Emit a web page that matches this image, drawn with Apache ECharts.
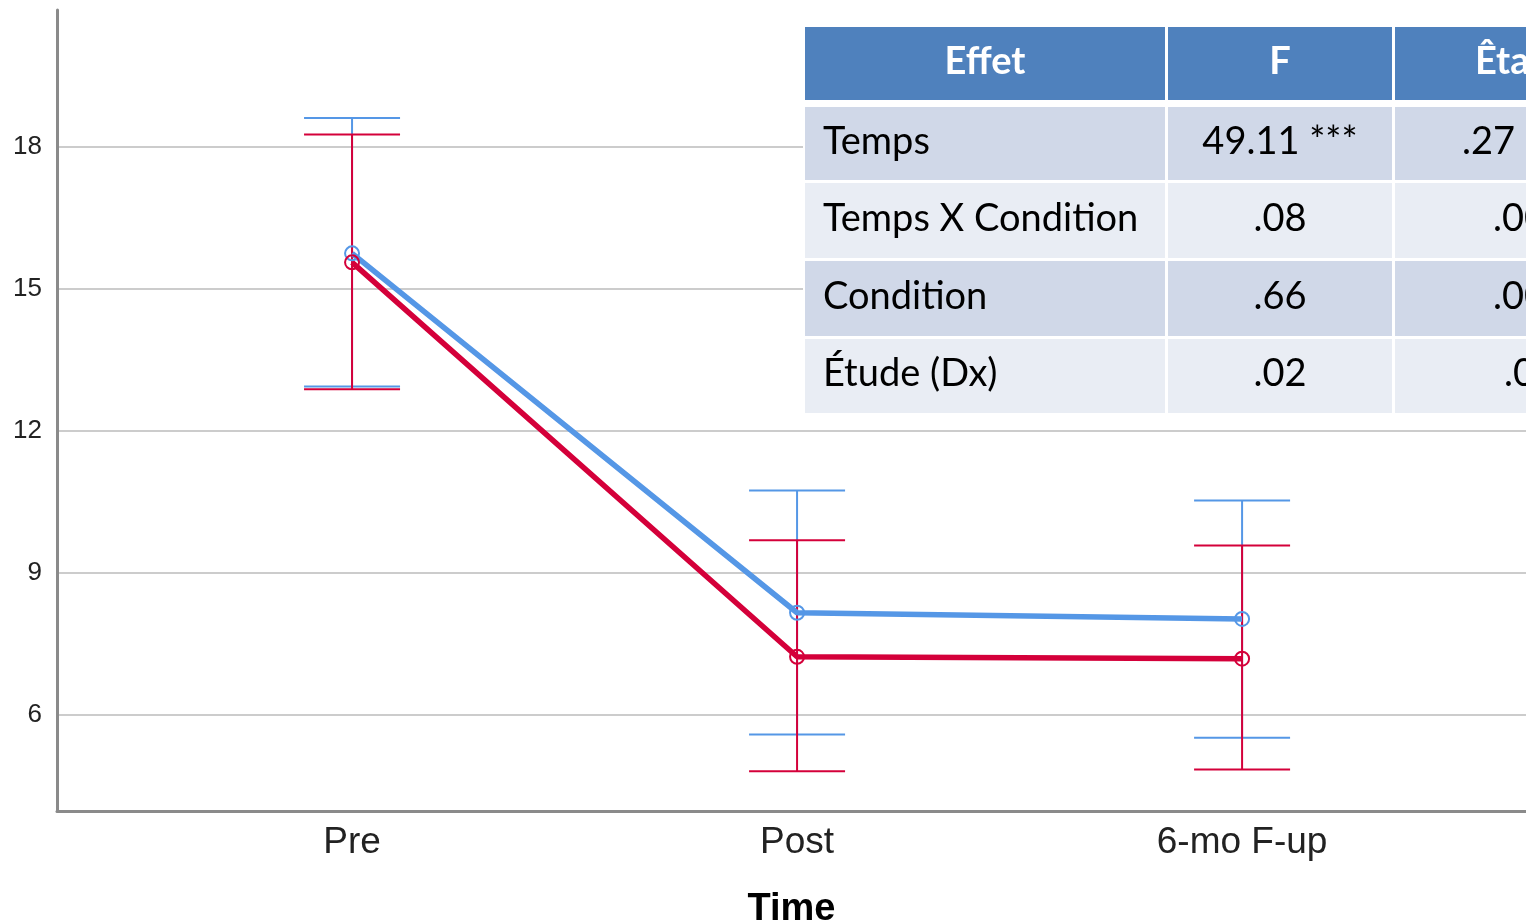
<!DOCTYPE html>
<html>
<head>
<meta charset="utf-8">
<script src="https://cdn.jsdelivr.net/npm/echarts@6/dist/echarts.min.js"></script>
<style>
html,body{margin:0;padding:0;background:#fff;}
#c{width:1526px;height:920px;}
</style>
</head>
<body>
<div id="c"></div>
<script>
// ---- data ----
const categories = ['Pre', 'Post', '6-mo F-up'];
const blueMean  = [15.74, 8.15, 8.02];
const blueUpper = [18.60, 10.73, 10.52];
const blueLower = [12.93, 5.58, 5.51];
const redMean   = [15.55, 7.22, 7.18];
const redUpper  = [18.25, 9.68, 9.57];
const redLower  = [12.87, 4.80, 4.84];
const yTicks = [6, 9, 12, 15, 18];
const xAxisName = 'Time';

// table content
const tableHeader = ['Effet', 'F', 'Êta'];
const tableEffects = ['Temps', 'Temps X Condition', 'Condition', 'Étude (Dx)'];
const tableF = ['49.11 ***', '.08', '.66', '.02'];
const tableEta = ['.27 ***', '.00', '.00', '.0'];

// ---- styles ----
const BLUE = '#5597E6';
const RED = '#D4003A';

function errorBarSeries(name, upper, lower, color) {
  return {
    type: 'custom',
    name: name,
    data: categories.map((c, i) => [i, lower[i], upper[i]]),
    z: 3,
    renderItem: function (params, api) {
      const x = api.value(0);
      const lo = api.coord([x, api.value(1)]);
      const hi = api.coord([x, api.value(2)]);
      const hw = 48;
      const st = { stroke: color, lineWidth: 2 };
      return {
        type: 'group',
        children: [
          { type: 'line', shape: { x1: hi[0], y1: hi[1], x2: lo[0], y2: lo[1] }, style: st },
          { type: 'line', shape: { x1: hi[0] - hw, y1: hi[1], x2: hi[0] + hw, y2: hi[1] }, style: st },
          { type: 'line', shape: { x1: lo[0] - hw, y1: lo[1], x2: lo[0] + hw, y2: lo[1] }, style: st }
        ]
      };
    }
  };
}

function lineSeries(name, values, color) {
  return {
    type: 'line',
    name: name,
    data: values.map((v, i) => [i, v]),
    z: 4,
    symbol: 'circle',
    symbolSize: 14,
    lineStyle: { color: color, width: 5.5 },
    itemStyle: { color: 'rgba(0,0,0,0)', borderColor: color, borderWidth: 2 },
    animation: false
  };
}

// ---- table graphics ----
const tblFont = 'Lato, "Open Sans", sans-serif';
const colX = [805, 1168, 1395];
const colW = [360, 224, 240];
const rowY = [27, 107, 183, 261, 339];
const rowH = [73, 73, 75, 75, 74];
const rowFill = ['#4F81BD', '#D0D8E8', '#E9EDF4', '#D0D8E8', '#E9EDF4'];
const graphics = [];
graphics.push({ type: 'rect', z: 100, shape: { x: 803, y: 24, width: 723, height: 392 }, style: { fill: '#ffffff' } });
for (let r = 0; r < 5; r++) {
  for (let c = 0; c < 3; c++) {
    graphics.push({ type: 'rect', z: 101, shape: { x: colX[c], y: rowY[r], width: colW[c], height: rowH[r] }, style: { fill: rowFill[r] } });
  }
}
const midY = r => rowY[r] + rowH[r] / 2 - 2;
const FS = 38;
// header
graphics.push({ type: 'text', z: 102, style: { text: tableHeader[0], x: colX[0] + colW[0] / 2, y: midY(0), align: 'center', verticalAlign: 'middle', font: 'bold ' + FS + 'px ' + tblFont, fill: '#ffffff' } });
graphics.push({ type: 'text', z: 102, style: { text: tableHeader[1], x: colX[1] + colW[1] / 2, y: midY(0), align: 'center', verticalAlign: 'middle', font: 'bold ' + FS + 'px ' + tblFont, fill: '#ffffff' } });
graphics.push({ type: 'text', z: 102, style: { text: tableHeader[2], x: 1475, y: midY(0), align: 'left', verticalAlign: 'middle', font: 'bold ' + FS + 'px ' + tblFont, fill: '#ffffff' } });
const etaX = [1462, 1493, 1493, 1504];
for (let i = 0; i < 4; i++) {
  const r = i + 1;
  graphics.push({ type: 'text', z: 102, style: { text: tableEffects[i], x: 823, y: midY(r), align: 'left', verticalAlign: 'middle', font: FS + 'px ' + tblFont, fill: '#000000' } });
  graphics.push({ type: 'text', z: 102, style: { text: tableF[i], x: colX[1] + colW[1] / 2, y: midY(r), align: 'center', verticalAlign: 'middle', font: FS + 'px ' + tblFont, fill: '#000000' } });
  graphics.push({ type: 'text', z: 102, style: { text: tableEta[i], x: etaX[i], y: midY(r), align: 'left', verticalAlign: 'middle', font: FS + 'px ' + tblFont, fill: '#000000' } });
}

const chart = echarts.init(document.getElementById('c'), null, { renderer: 'canvas' });
chart.setOption({
  animation: false,
  backgroundColor: '#ffffff',
  grid: { left: 57, right: 0, top: 10, bottom: 109, containLabel: false, outerBoundsMode: 'none' },
  xAxis: {
    type: 'value',
    min: -0.663,
    max: 2.638,
    name: xAxisName,
    nameLocation: 'middle',
    nameGap: 80,
    nameTextStyle: { fontFamily: 'Liberation Sans, Arial, sans-serif', fontSize: 38, fontWeight: 'bold', color: '#000' },
    axisLine: { onZero: false, lineStyle: { color: '#8a8a8a', width: 3 } },
    axisTick: { show: false, customValues: [0, 1, 2] },
    splitLine: { show: false },
    axisLabel: {
      customValues: [0, 1, 2],
      formatter: v => categories[Math.round(v)],
      margin: 13,
      fontFamily: 'Liberation Sans, Arial, sans-serif',
      fontSize: 37,
      color: '#222'
    }
  },
  yAxis: {
    type: 'value',
    min: 3.963,
    max: 20.88,
    axisLine: { show: true, onZero: false, lineStyle: { color: '#8a8a8a', width: 3 } },
    axisTick: { show: false, customValues: yTicks },
    axisLabel: {
      customValues: yTicks,
      margin: 15,
      fontFamily: 'Liberation Sans, Arial, sans-serif',
      fontSize: 26,
      color: '#222'
    },
    splitLine: { show: true, lineStyle: { color: '#cccccc', width: 2 } }
  },
  graphic: graphics,
  series: [
    errorBarSeries('blueErr', blueUpper, blueLower, BLUE),
    errorBarSeries('redErr', redUpper, redLower, RED),
    lineSeries('blue', blueMean, BLUE),
    lineSeries('red', redMean, RED)
  ]
});
</script>
</body>
</html>
